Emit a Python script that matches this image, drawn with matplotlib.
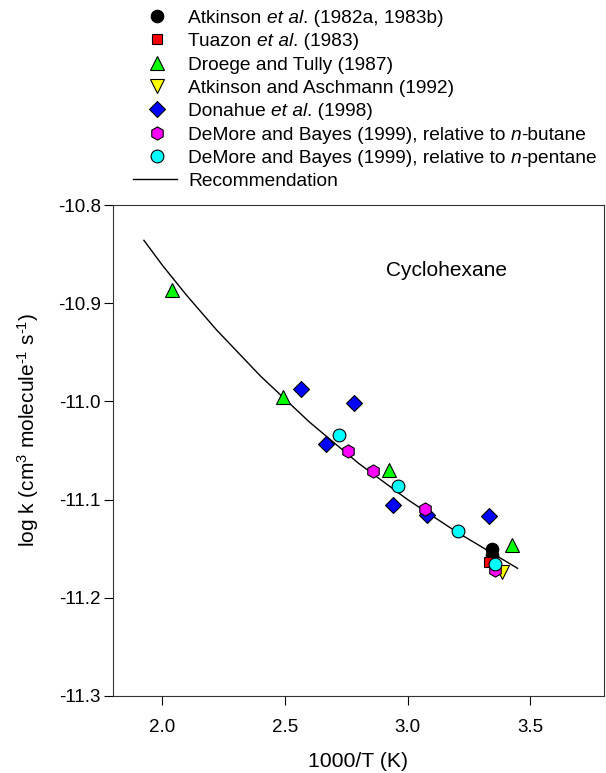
import matplotlib
matplotlib.use("Agg")
import matplotlib.pyplot as plt
from matplotlib.lines import Line2D

plt.rcParams['font.family'] = ['Liberation Sans', 'DejaVu Sans']
plt.rcParams['mathtext.fontset'] = 'custom'
plt.rcParams['mathtext.rm'] = 'Liberation Sans'
plt.rcParams['mathtext.it'] = 'Liberation Sans:italic'
plt.rcParams['mathtext.bf'] = 'Liberation Sans:bold'
plt.rcParams['mathtext.default'] = 'regular'
plt.rcParams['axes.unicode_minus'] = False

# ---- data ----
atk82_x = [3.344, 3.344]
atk82_y = [-11.150, -11.156]
tuazon_x = [3.330]
tuazon_y = [-11.164]
droege_x = [2.039, 2.492, 2.926, 3.425]
droege_y = [-10.887, -10.996, -11.070, -11.146]
atk92_x = [3.384]
atk92_y = [-11.174]
donahue_x = [2.567, 2.669, 2.780, 2.942, 3.078, 3.333]
donahue_y = [-10.987, -11.043, -11.002, -11.106, -11.116, -11.117]
demore_but_x = [2.757, 2.858, 3.070, 3.357]
demore_but_y = [-11.051, -11.071, -11.110, -11.172]
demore_pen_x = [2.719, 2.960, 3.207, 3.357]
demore_pen_y = [-11.034, -11.086, -11.132, -11.166]
rec_x = [1.926, 2.0, 2.1, 2.221, 2.4, 2.6, 2.8, 3.0, 3.2, 3.448]
rec_y = [-10.836, -10.861, -10.892, -10.927, -10.974, -11.021, -11.063, -11.100, -11.133, -11.170]

# legend labels: (text, italic) pieces
legend_labels = [
    [("Atkinson ", False), ("et al", True), (". (1982a, 1983b)", False)],
    [("Tuazon ", False), ("et al", True), (". (1983)", False)],
    [("Droege and Tully (1987)", False)],
    [("Atkinson and Aschmann (1992)", False)],
    [("Donahue ", False), ("et al", True), (". (1998)", False)],
    [("DeMore and Bayes (1999), relative to ", False), ("n", True), ("-butane", False)],
    [("DeMore and Bayes (1999), relative to ", False), ("n", True), ("-pentane", False)],
    [("Recommendation", False)],
]

W, H = 606, 773
fig = plt.figure(figsize=(W/100, H/100), dpi=100)
ax = fig.add_axes([113/W, 1-696/H, (604-113)/W, (696-205)/H])

ax.plot(rec_x, rec_y, color='black', lw=1.0, zorder=2)

series = [
    (atk82_x, atk82_y, 'o', 'black', 9),
    (tuazon_x, tuazon_y, 's', 'red', 7.7),
    (droege_x, droege_y, '^', '#00ff00', 9.4),
    (atk92_x, atk92_y, 'v', 'yellow', 9.4),
    (donahue_x, donahue_y, 'D', '#0000ff', 7.8),
    (demore_but_x, demore_but_y, 'h', '#ff00ff', 9.5),
    (demore_pen_x, demore_pen_y, 'o', '#00ffff', 9.2),
]
for xs, ys, m, c, s in series:
    ax.plot(xs, ys, linestyle='none', marker=m, markersize=s,
            markerfacecolor=c, markeredgecolor='black', markeredgewidth=0.8, zorder=3)

ax.set_xlim(1.8, 3.8)
ax.set_ylim(-11.3, -10.8)
ax.set_xticks([2.0, 2.5, 3.0, 3.5])
ax.set_xticklabels(['2.0', '2.5', '3.0', '3.5'])
ax.set_yticks([-11.3, -11.2, -11.1, -11.0, -10.9, -10.8])
ax.set_yticklabels(['-11.3', '-11.2', '-11.1', '-11.0', '-10.9', '-10.8'])
ax.tick_params(direction='out', length=6.7, width=0.8, labelsize=13.5)
ax.tick_params(axis='x', pad=10)
ax.tick_params(axis='y', pad=2)
for sp in ax.spines.values():
    sp.set_linewidth(0.8)
    sp.set_color('#333333')

ax.set_xlabel('1000/T (K)', fontsize=15.3)
ax.xaxis.set_label_coords(0.5, (696-752)/491)
fig.text(28/W, 1-430/H, r"log k (cm$^3$ molecule$^{\text{-}1}$ s$^{\text{-}1}$)",
         rotation=90, ha='center', va='center', fontsize=15)

ax.text(2.91, -10.867, 'Cyclohexane', fontsize=15, ha='left', va='center')

# ---- legend above the axes ----
fs_leg = 13.8
renderer = fig.canvas.get_renderer()


def advance(s, italic):
    style = 'italic' if italic else 'normal'
    t1 = fig.text(0, 0, s + '|', fontsize=fs_leg, style=style)
    t2 = fig.text(0, 0, '|', fontsize=fs_leg, style=style)
    w = t1.get_window_extent(renderer).width - t2.get_window_extent(renderer).width
    t1.remove()
    t2.remove()
    return w


row_h = 23.3
for i, parts in enumerate(legend_labels):
    yc = 16 + row_h * i
    if i < len(series):
        _, _, m, c, s = series[i]
        fig.add_artist(Line2D([157/W], [1-yc/H], transform=fig.transFigure,
                              linestyle='none', marker=m, markersize=s,
                              markerfacecolor=c, markeredgecolor='black',
                              markeredgewidth=0.8))
    else:
        fig.add_artist(Line2D([133/W, 177/W], [1-yc/H, 1-yc/H],
                              transform=fig.transFigure, color='black', lw=1.0))
    x = 188.0
    yb = yc + 7
    for s_txt, it in parts:
        fig.text(x/W, 1-yb/H, s_txt, fontsize=fs_leg,
                 style='italic' if it else 'normal', ha='left', va='baseline')
        x += advance(s_txt, it)

fig.savefig('out.png', dpi=100)
